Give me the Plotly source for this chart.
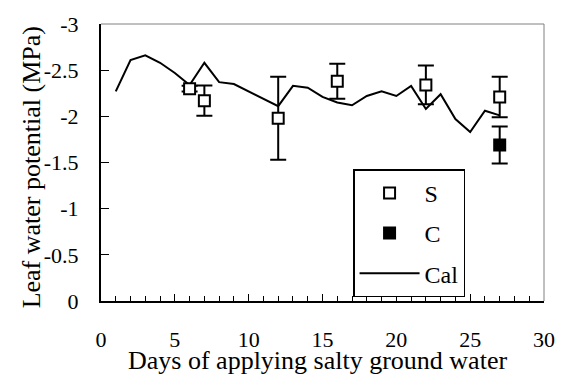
import plotly.graph_objects as go

# Data
cal_days = list(range(1, 28))
cal_vals = [-2.27, -2.61, -2.66, -2.58, -2.47, -2.34, -2.58, -2.37, -2.35, -2.27,
            -2.19, -2.11, -2.33, -2.31, -2.21, -2.15, -2.12, -2.22, -2.27, -2.22,
            -2.33, -2.08, -2.24, -1.97, -1.83, -2.06, -2.01]

s_days = [6, 7, 12, 16, 22, 27]
s_vals = [-2.30, -2.17, -1.98, -2.38, -2.34, -2.21]
s_err = [0.03, 0.165, 0.45, 0.19, 0.21, 0.22]

c_days = [27]
c_vals = [-1.69]
c_err = [0.20]

x_tickvals = [0, 5, 10, 15, 20, 25, 30]
x_ticktext = ["0", "5", "10", "15", "20", "25", "30"]
y_tickvals = [-3, -2.5, -2, -1.5, -1, -0.5, 0]
y_ticktext = ["-3", "-2.5", "-2", "-1.5", "-1", "-0.5", "0"]

FONT = "Liberation Serif"

fig = go.Figure()
fig.add_trace(go.Scatter(
    x=cal_days, y=cal_vals, mode="lines", name="Cal",
    line=dict(color="black", width=2), legendrank=3, legendgroup="cal"))
fig.add_trace(go.Scatter(
    x=s_days, y=s_vals, mode="markers", name="S",
    marker=dict(symbol="square", size=11, color="white",
                line=dict(color="black", width=2)),
    error_y=dict(type="data", array=s_err, visible=True, color="black",
                 thickness=2, width=8),
    legendrank=1, legendgroup="s"))
fig.add_trace(go.Scatter(
    x=c_days, y=c_vals, mode="markers", name="C", yaxis="y2",
    marker=dict(symbol="square", size=11, color="black",
                line=dict(color="black", width=2)),
    error_y=dict(type="data", array=c_err, visible=True, color="black",
                 thickness=2, width=8),
    legendrank=2, legendgroup="c"))

fig.update_layout(
    width=567, height=376,
    margin=dict(l=101, r=13, t=15, b=75),
    paper_bgcolor="white", plot_bgcolor="white",
    font=dict(family=FONT, size=22, color="black"),
    showlegend=True,
    legend=dict(x=0.569, y=0.4755, xanchor="left", yanchor="top",
                bgcolor="white", bordercolor="black", borderwidth=1.5,
                font=dict(family=FONT, size=24, color="black"),
                itemwidth=60, tracegroupgap=6, traceorder="grouped"),
    xaxis=dict(range=[0, 30], showgrid=False, zeroline=False,
               showline=True, linecolor="black", linewidth=2,
               ticks="inside", ticklen=7, tickwidth=1, tickcolor="black",
               tickvals=x_tickvals, ticktext=x_ticktext,
               tickfont=dict(family=FONT, size=22, color="black"),
               ticklabelstandoff=18,
               minor=dict(ticks="inside", ticklen=5, tickwidth=1,
                          tickcolor="black", dtick=1, tick0=0)),
    # label axis: transparent outside ticks push labels away from the axis line
    yaxis=dict(range=[0, -3], showgrid=False, zeroline=False,
               showline=False,
               ticks="outside", ticklen=17, tickwidth=1,
               tickcolor="rgba(0,0,0,0)",
               tickvals=y_tickvals, ticktext=y_ticktext,
               tickfont=dict(family=FONT, size=22, color="black")),
    # tick/line axis: inside ticks, no labels
    yaxis2=dict(range=[0, -3], overlaying="y", side="left", anchor="x",
                showgrid=False, zeroline=False,
                showline=True, linecolor="black", linewidth=2,
                ticks="inside", ticklen=8, tickwidth=1, tickcolor="black",
                tickvals=y_tickvals, showticklabels=False),
    shapes=[
        dict(type="line", xref="paper", yref="paper", x0=0, x1=1, y0=1, y1=1,
             line=dict(color="#808080", width=1)),
        dict(type="line", xref="paper", yref="paper", x0=1, x1=1, y0=0, y1=1,
             line=dict(color="#808080", width=1)),
    ],
    annotations=[
        dict(text="Days of applying salty ground water", xref="paper", yref="paper",
             x=0.488, y=-0.216, xanchor="center", yanchor="middle",
             showarrow=False, font=dict(family=FONT, size=26, color="black")),
        dict(text="Leaf water potential (MPa)", xref="paper", yref="paper",
             x=-0.158, y=0.4825, xanchor="center", yanchor="middle", textangle=-90,
             showarrow=False, font=dict(family=FONT, size=26, color="black")),
    ],
)

fig.write_html("out.html")
